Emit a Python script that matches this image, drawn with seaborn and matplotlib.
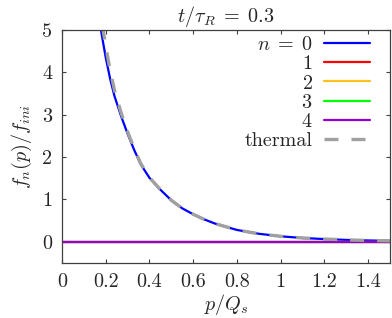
import numpy as np
import pandas as pd
import matplotlib
matplotlib.use('Agg')
import matplotlib.pyplot as plt
import seaborn as sns

## data
p_curve = [0.16, 0.18, 0.20, 0.22, 0.24, 0.27, 0.30, 0.33, 0.36, 0.40, 0.45, 0.50,
           0.55, 0.60, 0.65, 0.70, 0.80, 0.90, 1.00, 1.10, 1.20, 1.30, 1.40, 1.50]
f_n0 = [5.60, 4.94, 4.35, 3.85, 3.44, 2.97, 2.55, 2.17, 1.83, 1.51, 1.23, 0.98,
        0.79, 0.65, 0.53, 0.43, 0.28, 0.19, 0.13, 0.09, 0.065, 0.045, 0.032, 0.023]
f_thermal = [6.00, 5.25, 4.62, 4.05, 3.58, 3.05, 2.60, 2.20, 1.85, 1.52, 1.23, 0.98,
             0.79, 0.65, 0.53, 0.43, 0.28, 0.19, 0.13, 0.09, 0.065, 0.045, 0.032, 0.023]
p_flat = [0.0, 0.5, 1.0, 1.5]
f_n1 = [0.0, 0.0, 0.0, 0.0]
f_n2 = [0.0, 0.0, 0.0, 0.0]
f_n3 = [0.0, 0.0, 0.0, 0.0]
f_n4 = [0.0, 0.0, 0.0, 0.0]

x_ticks = [0, 0.2, 0.4, 0.6, 0.8, 1.0, 1.2, 1.4]
x_tick_labels = ['0', '0.2', '0.4', '0.6', '0.8', '1', '1.2', '1.4']
y_ticks = [0, 1, 2, 3, 4, 5]
y_tick_labels = ['0', '1', '2', '3', '4', '5']

sns.set_style('ticks')
plt.rcParams['font.family'] = 'cmr10'
plt.rcParams['mathtext.fontset'] = 'cm'
plt.rcParams['axes.unicode_minus'] = False
fs = 14.5

fig = plt.figure(figsize=(3.92, 3.18), dpi=100)
ax = fig.add_axes([62/392, 1 - 263/318, 328/392, 233/318])

# n = 0..4 then thermal on top
sns.lineplot(x=p_curve, y=f_n0, color='#0000ff', lw=1.6, label=r'$n\;=\;0$', ax=ax)
sns.lineplot(x=p_flat, y=f_n1, color='#ff0000', lw=1.6, label='$1$', ax=ax)
sns.lineplot(x=p_flat, y=f_n2, color='#ffc020', lw=1.6, label='$2$', ax=ax)
sns.lineplot(x=p_flat, y=f_n3, color='#00ff00', lw=1.6, label='$3$', ax=ax)
sns.lineplot(x=p_flat, y=f_n4, color='#9400d3', lw=1.6, label='$4$', ax=ax)
sns.lineplot(x=p_curve, y=f_thermal, color='#a0a0a0', lw=2.4,
             linestyle=(0, (4.2, 3.9)), label='thermal', ax=ax)

ax.set_xlim(0, 1.5)
ax.set_ylim(-0.5, 5)
ax.set_xticks(x_ticks)
ax.set_xticklabels(x_tick_labels)
ax.set_yticks(y_ticks)
ax.set_yticklabels(y_tick_labels)
ax.tick_params(direction='in', top=True, right=True, length=3.2, width=0.8,
               color='#404040', labelsize=fs, pad=7)
for s in ax.spines.values():
    s.set_visible(True)
    s.set_color('#404040')
    s.set_linewidth(0.9)

ax.set_title(r'$t/\tau_R\;=\;0.3$', fontsize=fs, pad=6)
ax.set_xlabel(r'$p/Q_s$', fontsize=fs, labelpad=1)
ax.set_ylabel(r'$f_n(p)/f_{ini}$', fontsize=fs, labelpad=6)

ax.legend(loc='upper right', bbox_to_anchor=(0.939, 0.975), frameon=False,
          markerfirst=False, fontsize=fs, handlelength=2.3, handletextpad=0.55,
          labelspacing=0.06, borderpad=0, borderaxespad=0)

plt.savefig('out.png', dpi=100)
